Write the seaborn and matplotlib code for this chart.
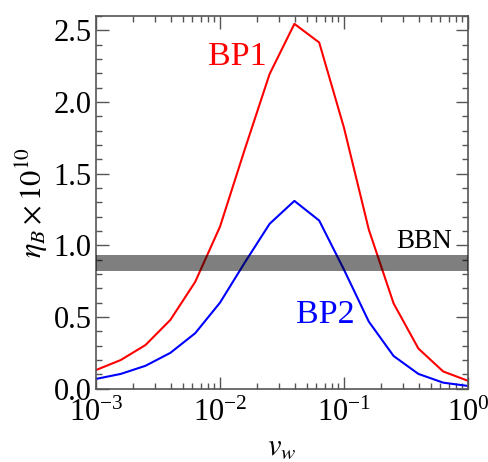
import numpy as np
import pandas as pd
import matplotlib
matplotlib.use("Agg")
import matplotlib.pyplot as plt
import seaborn as sns
from matplotlib.ticker import MultipleLocator, LogLocator, FormatStrFormatter

#%% data
vw = [0.001, 0.001585, 0.002512, 0.003981, 0.00631, 0.01, 0.01585, 0.02512,
      0.03981, 0.0631, 0.1, 0.1585, 0.2512, 0.3981, 0.631, 1.0]
etaBP1 = [0.13, 0.20, 0.305, 0.48, 0.745, 1.13, 1.67, 2.195,
          2.545, 2.415, 1.82, 1.11, 0.595, 0.28, 0.12, 0.055]
etaBP2 = [0.068, 0.103, 0.16, 0.25, 0.387, 0.60, 0.88, 1.15,
          1.31, 1.173, 0.83, 0.468, 0.228, 0.103, 0.042, 0.019]
bbnLow, bbnHigh = 0.82, 0.93

df = pd.DataFrame({"vw": vw + vw,
                   "eta": etaBP1 + etaBP2,
                   "bp": ["BP1"] * len(vw) + ["BP2"] * len(vw)})

#%% style
sns.set_style("ticks")
plt.rcParams["font.family"] = "serif"
plt.rcParams["font.serif"] = ["Liberation Serif", "DejaVu Serif"]
plt.rcParams["mathtext.fontset"] = "stix"
plt.rcParams["text.color"] = "black"
plt.rcParams["axes.labelcolor"] = "black"

frameColor = "#555555"

fig = plt.figure(figsize=(4.88, 4.62), dpi=100)
ax = fig.add_axes([0.1967, 0.1587, 0.7623, 0.8067])

sns.lineplot(data=df, x="vw", y="eta", hue="bp",
             palette={"BP1": "#ff0000", "BP2": "#0000ff"},
             linewidth=1.5, legend=False, ax=ax)

# BBN band, drawn on top so the lines show through darker
ax.axhspan(bbnLow, bbnHigh, color="black", alpha=0.5, lw=0, zorder=3)

ax.set_xscale("log")
ax.set_xlim(1e-3, 1)
ax.set_ylim(0, 2.6)

ax.yaxis.set_major_locator(MultipleLocator(0.5))
ax.yaxis.set_minor_locator(MultipleLocator(0.1))
ax.yaxis.set_major_formatter(FormatStrFormatter("%.1f"))
ax.xaxis.set_major_locator(LogLocator(base=10, numticks=10))
ax.xaxis.set_minor_locator(LogLocator(base=10, subs=np.arange(2, 10), numticks=10))

ax.tick_params(which="both", direction="in", top=True, right=True,
               color=frameColor, labelcolor="black", labelsize=22, width=1)
ax.tick_params(which="major", length=9)
ax.tick_params(which="minor", length=4.5)
ax.tick_params(axis="y", pad=3)
ax.tick_params(axis="x", pad=7)
for spine in ax.spines.values():
    spine.set_color(frameColor)
    spine.set_linewidth(1.2)

# Plot Information
ax.set_xlabel(r"$v_w$", fontsize=22, labelpad=4)
ax.set_ylabel(r"$\eta_B \times 10^{10}$", fontsize=22, labelpad=3)

ax.text(0.0137, 2.314, "BP1", color="#ff0000", fontsize=24.5,
        ha="center", va="center")
ax.text(0.0703, 0.5126, "BP2", color="#0000ff", fontsize=24.5,
        ha="center", va="center")
ax.text(0.44, 1.027, "BBN", color="black", fontsize=19.5,
        ha="center", va="center")

fig.savefig("out.png", dpi=100)
